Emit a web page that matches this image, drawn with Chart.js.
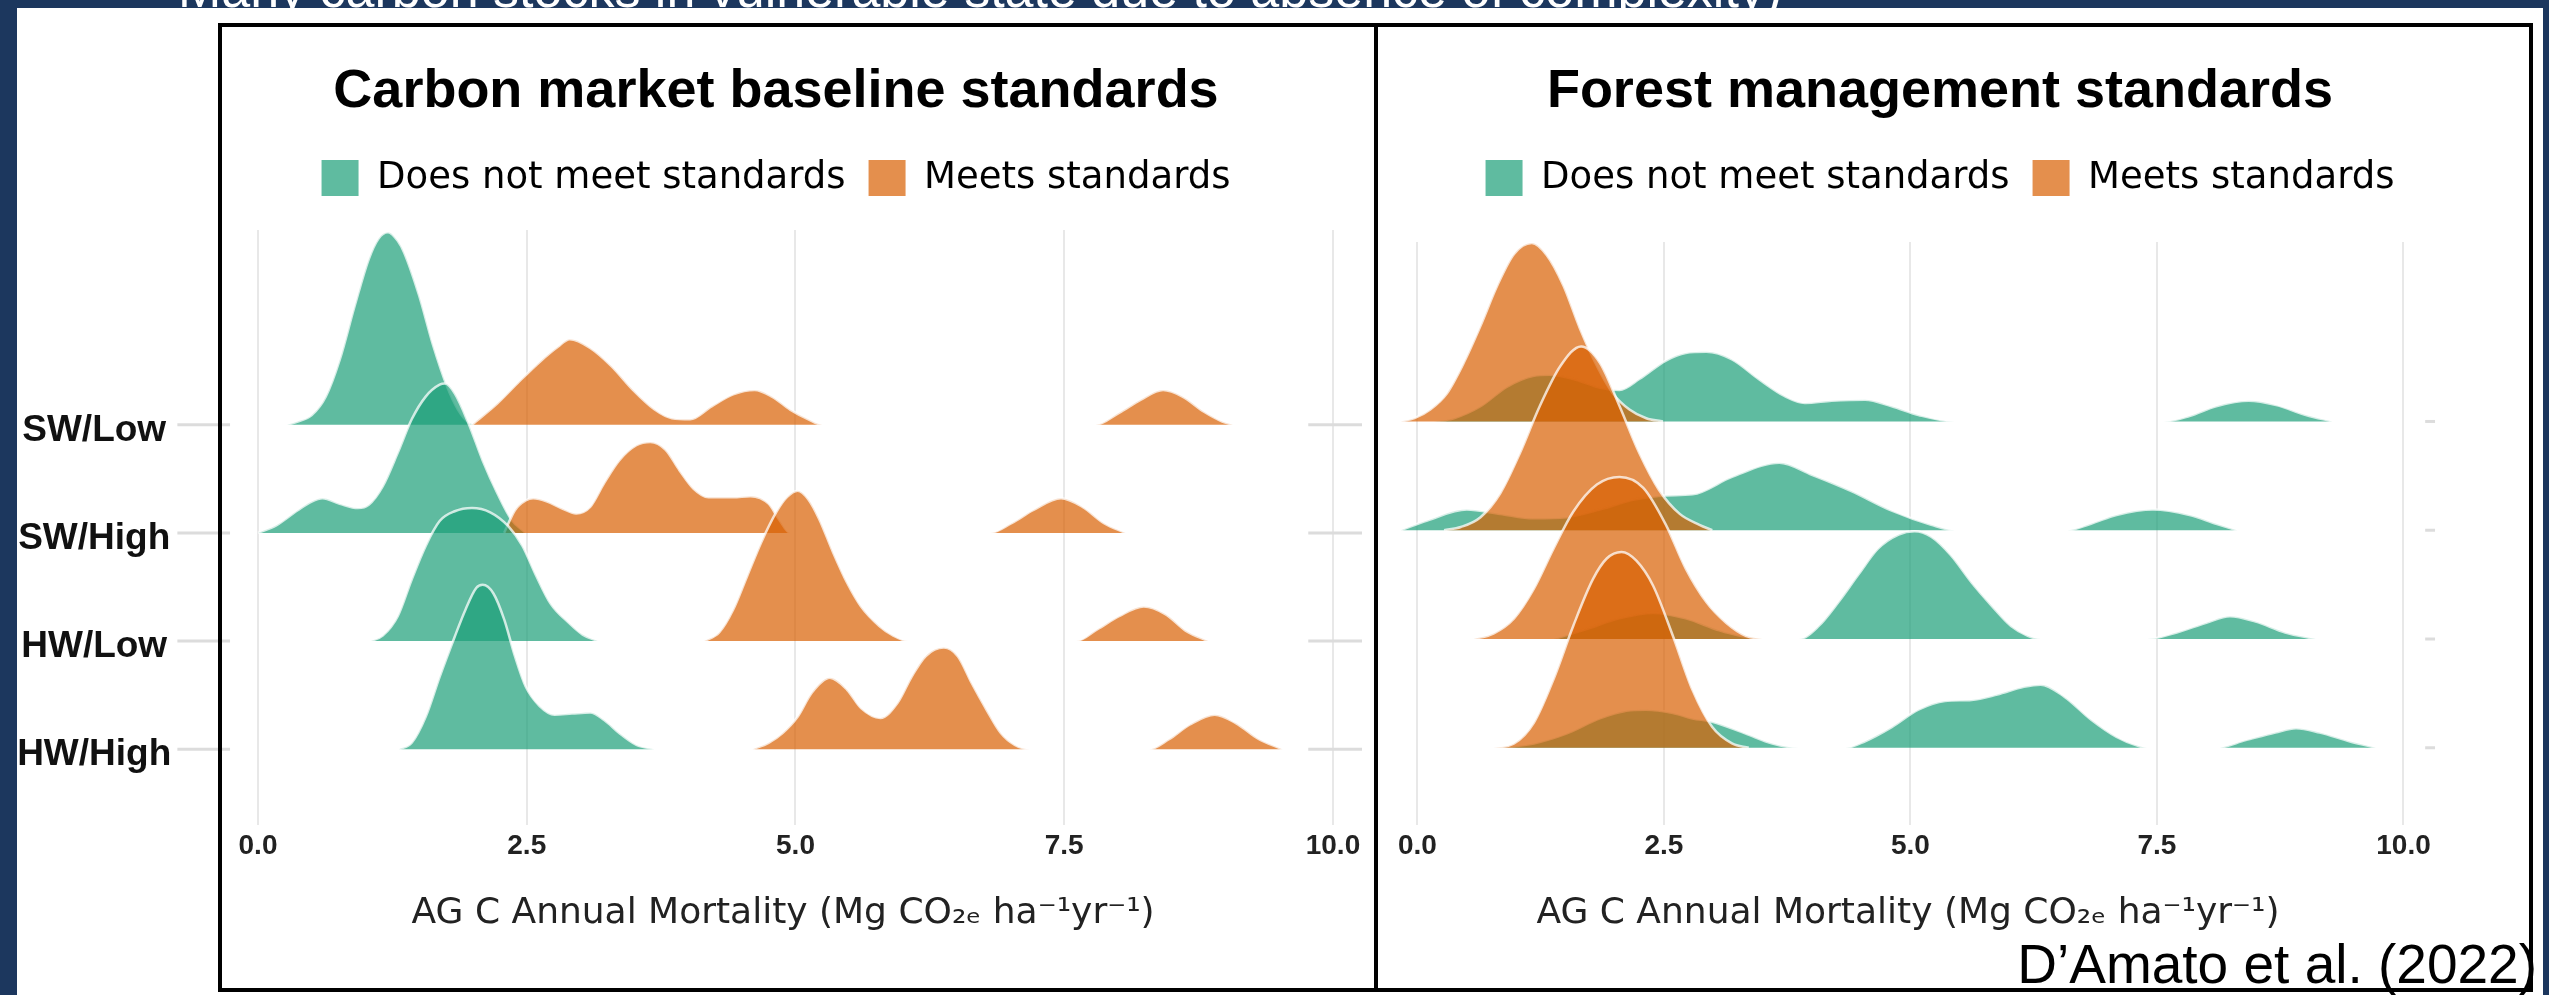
<!DOCTYPE html>
<html>
<head>
<meta charset="utf-8">
<script src="https://cdn.jsdelivr.net/npm/chart.js@4.4.1/dist/chart.umd.min.js"></script>
<style>
  html, body { margin: 0; padding: 0; }
  body { width: 2549px; height: 995px; background: #1c375e; position: relative; overflow: hidden; }
  #paper { position: absolute; left: 17px; top: 8px; width: 2526px; height: 987px; background: #ffffff; }
  #banner { position: absolute; left: 178px; top: -41px; font: 52px 'Liberation Sans', Arial, sans-serif; color: #ffffff; white-space: nowrap; }
  .box { position: absolute; border: 4px solid #000; box-sizing: border-box; top: 23px; height: 969px; }
  #boxL { left: 218px; width: 1160px; }
  #boxR { left: 1374px; width: 1159px; }
  canvas { position: absolute; top: 0; }
  #cL { left: 0; }
  #cR { left: 1350px; }
  #cite { position: absolute; right: 12px; top: 937px; font: 55px/55px 'Liberation Sans', Arial, sans-serif; color: #000; white-space: nowrap; }
</style>
</head>
<body>
<div id="paper"></div>
<div id="banner">Many carbon stocks in vulnerable state due to absence of complexity)</div>
<canvas id="cL" width="1552" height="995"></canvas>
<canvas id="cR" width="1180" height="995"></canvas>
<div class="box" id="boxL"></div>
<div class="box" id="boxR"></div>
<div id="cite">D’Amato et al. (2022)</div>
<script>
// ---------- categories / labels ----------
const rowLabels = ['SW/Low', 'SW/High', 'HW/Low', 'HW/High'];
const rowBase = [4, 3, 2, 1];
const xTickValues = [0, 2.5, 5, 7.5, 10];
const groupNames = ['Does not meet standards', 'Meets standards'];
const panelTitles = ['Carbon market baseline standards', 'Forest management standards'];
const xAxisTitle = 'AG C Annual Mortality (Mg CO₂ₑ ha⁻¹yr⁻¹)';

// ---------- Carbon market baseline standards: densities [x, height in row units] ----------
const cmNotSWLow = [[0.27,0],[0.37,0.03],[0.5,0.09],[0.63,0.26],[0.76,0.6],[0.9,1.1],[1.03,1.53],[1.12,1.72],[1.21,1.78],[1.3,1.7],[1.36,1.59],[1.5,1.19],[1.63,0.73],[1.76,0.35],[1.86,0.14],[1.96,0.02],[2.03,0]];
const cmNotSWHigh = [[0,0],[0.17,0.07],[0.37,0.21],[0.5,0.29],[0.6,0.32],[0.76,0.27],[0.93,0.23],[1.03,0.26],[1.16,0.43],[1.3,0.74],[1.43,1.05],[1.56,1.26],[1.69,1.37],[1.74,1.38],[1.83,1.29],[1.96,1.01],[2.09,0.67],[2.23,0.36],[2.36,0.12],[2.49,0]];
const cmNotHWLow = [[1.05,0],[1.16,0.05],[1.3,0.23],[1.43,0.57],[1.56,0.88],[1.69,1.11],[1.83,1.2],[1.99,1.23],[2.16,1.19],[2.33,1.06],[2.46,0.88],[2.59,0.6],[2.72,0.35],[2.89,0.17],[3.02,0.06],[3.16,0]];
const cmNotHWHigh = [[1.31,0],[1.43,0.06],[1.56,0.3],[1.69,0.67],[1.83,1.04],[1.93,1.29],[2.03,1.49],[2.09,1.52],[2.19,1.44],[2.29,1.2],[2.39,0.86],[2.49,0.58],[2.62,0.4],[2.76,0.32],[2.92,0.33],[3.09,0.34],[3.22,0.27],[3.36,0.15],[3.52,0.04],[3.69,0]];
const cmMeetSWLow = [[1.99,0],[2.23,0.2],[2.43,0.4],[2.62,0.58],[2.79,0.72],[2.9,0.79],[3.09,0.71],[3.29,0.54],[3.49,0.32],[3.69,0.14],[3.85,0.06],[4.02,0.05],[4.22,0.17],[4.42,0.28],[4.62,0.32],[4.78,0.26],[4.95,0.14],[5.12,0.05],[5.25,0],[7.79,0],[8.01,0.11],[8.21,0.23],[8.42,0.32],[8.6,0.26],[8.8,0.12],[8.97,0.03],[9.07,0]];
const cmMeetSWHigh = [[2.29,0],[2.39,0.21],[2.49,0.3],[2.56,0.32],[2.69,0.29],[2.82,0.23],[2.96,0.18],[3.09,0.24],[3.22,0.46],[3.36,0.67],[3.52,0.81],[3.65,0.84],[3.79,0.77],[3.92,0.58],[4.05,0.41],[4.19,0.33],[4.42,0.33],[4.58,0.34],[4.75,0.27],[4.85,0.12],[4.95,0],[6.81,0],[7.01,0.09],[7.21,0.21],[7.47,0.32],[7.67,0.24],[7.87,0.09],[8.07,0]];
const cmMeetHWLow = [[4.15,0],[4.29,0.08],[4.42,0.29],[4.55,0.6],[4.68,0.91],[4.82,1.19],[4.92,1.33],[5.02,1.39],[5.12,1.31],[5.22,1.13],[5.35,0.82],[5.48,0.54],[5.61,0.32],[5.78,0.14],[5.91,0.05],[6.05,0],[7.61,0],[7.81,0.11],[8.01,0.23],[8.24,0.32],[8.44,0.25],[8.64,0.09],[8.84,0]];
const cmMeetHWHigh = [[4.6,0],[4.75,0.06],[4.88,0.15],[5.02,0.3],[5.15,0.52],[5.32,0.66],[5.48,0.55],[5.61,0.38],[5.79,0.29],[5.95,0.43],[6.08,0.67],[6.21,0.86],[6.38,0.94],[6.51,0.86],[6.64,0.61],[6.78,0.36],[6.91,0.15],[7.04,0.04],[7.18,0],[8.29,0],[8.47,0.09],[8.67,0.23],[8.9,0.32],[9.1,0.24],[9.3,0.1],[9.53,0]];

// ---------- Forest management standards ----------
const fmNotSWLow = [[0.17,0],[0.37,0.03],[0.64,0.14],[0.91,0.32],[1.18,0.42],[1.34,0.43],[1.58,0.39],[1.85,0.31],[2.05,0.29],[2.25,0.39],[2.52,0.56],[2.72,0.63],[2.93,0.64],[3.19,0.57],[3.46,0.39],[3.73,0.23],[3.93,0.17],[4.2,0.19],[4.54,0.2],[4.81,0.14],[5.08,0.06],[5.45,0],[7.57,0],[7.83,0.05],[8.1,0.14],[8.43,0.19],[8.71,0.15],[9.01,0.06],[9.28,0]];
const fmNotSWHigh = [[-0.17,0],[0.1,0.09],[0.5,0.19],[0.84,0.15],[1.18,0.11],[1.51,0.12],[1.85,0.19],[2.19,0.28],[2.52,0.32],[2.79,0.33],[3.19,0.49],[3.67,0.62],[4.0,0.51],[4.4,0.36],[4.81,0.18],[5.21,0.05],[5.45,0],[6.59,0],[6.83,0.06],[7.09,0.14],[7.46,0.19],[7.83,0.14],[8.1,0.06],[8.31,0]];
const fmNotHWLow = [[1.38,0],[1.71,0.09],[2.05,0.19],[2.39,0.24],[2.72,0.19],[3.06,0.08],[3.33,0.02],[3.46,0],[3.87,0],[4.07,0.12],[4.27,0.34],[4.47,0.59],[4.67,0.83],[4.88,0.96],[5.04,0.99],[5.21,0.94],[5.41,0.77],[5.62,0.52],[5.82,0.31],[6.02,0.12],[6.19,0.03],[6.32,0],[7.4,0],[7.7,0.06],[8.0,0.15],[8.24,0.21],[8.5,0.16],[8.8,0.06],[9.11,0]];
const fmNotHWHigh = [[0.84,0],[1.18,0.04],[1.51,0.13],[1.85,0.27],[2.12,0.34],[2.32,0.35],[2.59,0.32],[2.79,0.27],[2.99,0.24],[3.33,0.13],[3.6,0.04],[3.87,0],[4.34,0],[4.54,0.06],[4.81,0.19],[5.08,0.35],[5.35,0.43],[5.62,0.44],[5.88,0.49],[6.15,0.56],[6.32,0.58],[6.56,0.47],[6.83,0.26],[7.09,0.1],[7.3,0.02],[7.4,0],[8.1,0],[8.4,0.07],[8.7,0.14],[8.91,0.18],[9.15,0.14],[9.45,0.06],[9.72,0]];
const fmMeetSWLow = [[-0.17,0],[-0.03,0.03],[0.13,0.11],[0.3,0.26],[0.47,0.54],[0.64,0.88],[0.81,1.25],[0.98,1.54],[1.16,1.64],[1.31,1.53],[1.48,1.25],[1.65,0.85],[1.82,0.51],[1.98,0.26],[2.15,0.11],[2.32,0.03],[2.49,0]];
const fmMeetSWHigh = [[0.27,0],[0.44,0.03],[0.64,0.12],[0.84,0.34],[1.04,0.71],[1.24,1.14],[1.45,1.51],[1.66,1.69],[1.85,1.54],[2.05,1.14],[2.25,0.71],[2.45,0.37],[2.66,0.15],[2.86,0.05],[2.99,0]];
const fmMeetHWLow = [[0.57,0],[0.77,0.05],[0.98,0.19],[1.18,0.46],[1.38,0.83],[1.58,1.17],[1.82,1.42],[2.05,1.49],[2.29,1.39],[2.52,1.05],[2.72,0.65],[2.93,0.34],[3.13,0.15],[3.33,0.03],[3.5,0]];
const fmMeetHWHigh = [[0.77,0],[0.98,0.04],[1.18,0.23],[1.38,0.63],[1.58,1.12],[1.78,1.55],[1.92,1.74],[2.07,1.8],[2.22,1.72],[2.39,1.49],[2.59,1.03],[2.79,0.53],[2.99,0.19],[3.19,0.04],[3.36,0]];

// horizontal guide stubs (x extents, in axis units)
const cmStubs = [[-0.75, -0.26], [9.77, 10.27]];
const fmStubs = [[10.22, 10.32]];

// ---------- styling ----------
const FONT = "'DejaVu Sans', 'Liberation Sans', sans-serif";
const ARIAL = "'Liberation Sans', Arial, sans-serif";
const GREEN = 'rgba(27,158,119,0.7)';
const ORANGE = 'rgba(217,95,2,0.7)';
const OUTLINE = 'rgba(255,255,255,0.75)';

function buildDatasets(notArrs, meetArrs, stubs) {
  const ds = [];
  rowLabels.forEach((lab, i) => {
    const base = rowBase[i];
    [[notArrs[i], GREEN], [meetArrs[i], ORANGE]].forEach(([pts, col]) => {
      ds.push({
        data: pts.map(([x, h]) => ({x: x, y: base + h})),
        fill: {value: base},
        backgroundColor: col,
        borderColor: OUTLINE,
        borderWidth: 2.5,
        pointRadius: 0,
        pointHoverRadius: 0,
        cubicInterpolationMode: 'monotone',
        clip: false,
        segment: {
          borderColor: c => (c.p0.parsed.y <= base + 1e-9 && c.p1.parsed.y <= base + 1e-9) ? 'rgba(0,0,0,0)' : undefined
        }
      });
    });
  });
  ds.forEach((d, i) => { d.order = 100 - i; });
  rowBase.forEach(base => {
    stubs.forEach(([a, b]) => {
      ds.push({
        data: [{x: a, y: base}, {x: b, y: base}],
        borderColor: '#dcdcdc', borderWidth: 3, pointRadius: 0, fill: false, clip: false, order: 500
      });
    });
  });
  return ds;
}

function legendOpts() {
  return {
    display: true, position: 'top',
    labels: {
      boxWidth: 37, boxHeight: 36, padding: 23,
      font: {family: FONT, size: 37}, color: '#1a1a1a',
      generateLabels: () => groupNames.map((t, i) => ({
        text: t, fillStyle: [GREEN, ORANGE][i], strokeStyle: 'rgba(0,0,0,0)', lineWidth: 0, hidden: false, datasetIndex: i
      }))
    }
  };
}

function xScale(min, max) {
  return {
    type: 'linear', position: 'bottom', min: min, max: max,
    afterBuildTicks: s => { s.ticks = xTickValues.map(v => ({value: v})); },
    ticks: { callback: v => Number(v).toFixed(1), font: {family: ARIAL, size: 28, weight: 'bold'}, color: '#222', padding: 4, maxRotation: 0, autoSkip: false },
    grid: { color: '#e8e8e8', lineWidth: 2, drawTicks: false },
    border: { display: false },
    title: { display: true, text: xAxisTitle, font: {family: FONT, size: 36}, color: '#222', padding: {top: 0, bottom: 59.4} },
    afterFit: s => { s.height = 170; }
  };
}
function spacer(pos, size) {
  return {
    type: 'linear', position: pos, display: true,
    grid: {display: false}, ticks: {display: false}, border: {display: false},
    afterFit: s => { if (pos === 'top' || pos === 'bottom') s.height = size; else s.width = size; }
  };
}
function titleOpts(text) {
  return { display: true, text: text, font: {family: ARIAL, size: 54, weight: 'bold'}, color: '#000', padding: {top: 0, bottom: 12.1} };
}

Chart.defaults.font.family = FONT;

// Left panel
new Chart(document.getElementById('cL'), {
  type: 'line',
  data: { datasets: buildDatasets([cmNotSWLow, cmNotSWHigh, cmNotHWLow, cmNotHWHigh], [cmMeetSWLow, cmMeetSWHigh, cmMeetHWLow, cmMeetHWHigh], cmStubs) },
  options: {
    responsive: false, animation: false, devicePixelRatio: 1, events: [],
    layout: { padding: {top: 59.6, left: 0, right: 0, bottom: 0} },
    plugins: { title: titleOpts(panelTitles[0]), legend: legendOpts(), tooltip: { enabled: false } },
    scales: {
      x: xScale(-0.5, 10.27),
      xTop: spacer('top', 23.5),
      y: {
        type: 'linear', position: 'left', min: 0.3, max: 5.8,
        afterBuildTicks: s => { s.ticks = rowBase.map(v => ({value: v})); },
        ticks: { callback: v => rowLabels[rowBase.indexOf(v)], crossAlign: 'center', padding: 25, labelOffset: 6, font: {family: ARIAL, size: 37, weight: 'bold'}, color: '#111', autoSkip: false },
        grid: { display: false }, border: { display: false },
        afterFit: s => { s.width = 204.25; }
      },
      yRight: spacer('right', 190)
    }
  }
});

// Right panel
new Chart(document.getElementById('cR'), {
  type: 'line',
  data: { datasets: buildDatasets([fmNotSWLow, fmNotSWHigh, fmNotHWLow, fmNotHWHigh], [fmMeetSWLow, fmMeetSWHigh, fmMeetHWLow, fmMeetHWHigh], fmStubs) },
  options: {
    responsive: false, animation: false, devicePixelRatio: 1, events: [],
    layout: { padding: {top: 59.6, left: 0, right: 0, bottom: 0} },
    plugins: { title: titleOpts(panelTitles[1]), legend: legendOpts(), tooltip: { enabled: false } },
    scales: {
      x: xScale(-0.4, 10.35),
      xTop: spacer('top', 35.5),
      y: {
        type: 'linear', position: 'left', min: 0.29, max: 5.65, display: true,
        grid: {display: false}, ticks: {display: false}, border: {display: false},
        afterFit: s => { s.width = 28; }
      },
      yRight: spacer('right', 92)
    }
  }
});
</script>
</body>
</html>
